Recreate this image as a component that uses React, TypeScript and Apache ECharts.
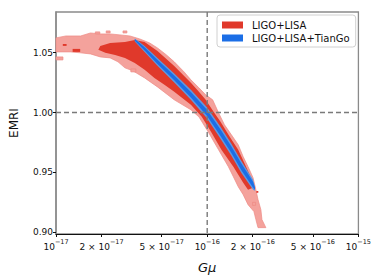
import React, { useEffect, useRef } from "react";
import * as echarts from "echarts";

// ---- data (x stored as log10(Gμ), y as EMRI) ----
const xTickValues = [1e-17, 2e-17, 5e-17, 1e-16, 2e-16, 5e-16, 1e-15];
const yTickValues = [0.9, 0.95, 1.0, 1.05];
const seriesNames = ["LIGO+LISA", "LIGO+LISA+TianGo"];
const refPoint = [1e-16, 1.0]; // dashed reference lines

// outer (light) LIGO+LISA contour
const redOuter: number[][] = [
  [-17.0, 1.0623], [-16.935, 1.0639], [-16.837, 1.0639], [-16.772, 1.0664], [-16.707, 1.0656],
  [-16.642, 1.0656], [-16.577, 1.0648], [-16.511, 1.0639], [-16.446, 1.0614], [-16.381, 1.0581],
  [-16.329, 1.0539], [-16.27, 1.0481], [-16.218, 1.0423], [-16.153, 1.0339], [-16.108, 1.0273],
  [-16.055, 1.0206], [-16.01, 1.0148], [-15.964, 1.0106], [-15.925, 0.9998], [-15.886, 0.9898],
  [-15.84, 0.9814], [-15.795, 0.9731], [-15.762, 0.9631], [-15.73, 0.9548], [-15.697, 0.9456],
  [-15.678, 0.9356], [-15.664, 0.9273], [-15.645, 0.9189], [-15.638, 0.9106], [-15.612, 0.9039],
  [-15.664, 0.9039], [-15.678, 0.9106], [-15.691, 0.9173], [-15.73, 0.9231], [-15.762, 0.9314],
  [-15.795, 0.9381], [-15.827, 0.9464], [-15.86, 0.9548], [-15.925, 0.9689], [-15.99, 0.9831],
  [-16.055, 0.9964], [-16.108, 1.0023], [-16.218, 1.0106], [-16.329, 1.0214], [-16.414, 1.0289],
  [-16.492, 1.0348], [-16.544, 1.0373], [-16.59, 1.0423], [-16.642, 1.0456], [-16.707, 1.0464],
  [-16.772, 1.0489], [-16.837, 1.0498], [-16.902, 1.0506], [-17.0, 1.0506],
];

// inner (dark) LIGO+LISA contour
const redInner: number[][] = [
  [-16.707, 1.0556], [-16.642, 1.0581], [-16.544, 1.0589], [-16.479, 1.0606], [-16.414, 1.0589],
  [-16.329, 1.0514], [-16.218, 1.0389], [-16.108, 1.0248], [-16.055, 1.0173], [-16.01, 1.0106],
  [-15.958, 1.0006], [-15.912, 0.9923], [-15.847, 0.9789], [-15.795, 0.9689], [-15.749, 0.9564],
  [-15.71, 0.9456], [-15.697, 0.9373], [-15.73, 0.9356], [-15.762, 0.9414], [-15.827, 0.9548],
  [-15.906, 0.9689], [-15.971, 0.9831], [-16.036, 0.9964], [-16.108, 1.0064], [-16.218, 1.0173],
  [-16.283, 1.0231], [-16.349, 1.0289], [-16.414, 1.0356], [-16.479, 1.0414], [-16.544, 1.0456],
  [-16.609, 1.0481], [-16.674, 1.0498], [-16.72, 1.0523],
];

// isolated light patches [log x0, log x1, y0, y1]
const redOuterBlobs: number[][] = [
  [-17.0, -16.954, 1.0439, 1.0464],
  [-16.74, -16.71, 1.0656, 1.0673],
  [-16.668, -16.642, 1.0664, 1.0681],
  [-16.557, -16.531, 1.0664, 1.0681],
  [-16.505, -16.472, 1.0339, 1.0364],
  [-15.7, -15.68, 0.9225, 0.925],
];
// isolated dark patches
const redInnerBlobs: number[][] = [
  [-16.89, -16.84, 1.0506, 1.0531],
  [-16.955, -16.93, 1.0556, 1.0572],
  [-15.675, -15.662, 0.9330, 0.9345],
];

// LIGO+LISA+TianGo band: centre line and half thickness
const blueLogX = [-16.479, -16.414, -16.329, -16.218, -16.108, -16.003, -15.912, -15.84, -15.775, -15.697, -15.684];
const blueMid = [1.0606, 1.0531, 1.0423, 1.0289, 1.0148, 1.0, 0.9831, 0.9689, 0.9548, 0.9398, 0.9364];
const blueHalf = [0.00125, 0.0025, 0.0033, 0.00375, 0.0042, 0.0046, 0.005, 0.005, 0.005, 0.0042, 0.0017];

const FONT = "DejaVu Sans";

function rectPoly(r: number[]): number[][] {
  return [[r[0], r[2]], [r[1], r[2]], [r[1], r[3]], [r[0], r[3]]];
}
function bandPoly(scale: number): number[][] {
  const up = blueLogX.map((x, i) => [x, blueMid[i] + blueHalf[i] * scale]);
  const lo = blueLogX.map((x, i) => [x, blueMid[i] - blueHalf[i] * scale]).reverse();
  return up.concat(lo);
}

function polySeries(name: string, polys: number[][][], fill: string, stroke: string | null, z: number) {
  return {
    type: "custom",
    name,
    z,
    clip: true,
    itemStyle: { color: fill },
    data: polys.map((p, i) => [Math.pow(10, p[0][0]), p[0][1], i]),
    encode: { x: 0, y: 1 },
    renderItem: (params: any, api: any) => {
      const poly = polys[params.dataIndex];
      const pts = poly.map(([lx, y]) => api.coord([Math.pow(10, lx), y]));
      return {
        type: "polygon",
        shape: { points: pts },
        style: { fill, stroke: stroke || "none", lineWidth: stroke ? 0.7 : 0 },
      };
    },
  };
}

function xLabel(v: number): string {
  const e = Math.floor(Math.log10(v) + 1e-9);
  const m = Math.round(v / Math.pow(10, e));
  const exp = "\u2212" + String(-e);
  return m === 1 ? `{b|10}{s|${exp}}` : `{b|${m} \u00d7 10}{s|${exp}}`;
}

export default function App() {
  const ref = useRef<HTMLDivElement>(null);
  useEffect(() => {
    if (!ref.current) return;
    const chart = echarts.init(ref.current, null, { renderer: "svg" });
    const pink = "#f4a29c";
    const pinkEdge = "#ee8a84";
    const red = "#e0392b";
    const blue = "#1b6ee6";
    const lightBlue = "#5f99e0";
    const dashStyle = { stroke: "#7a7a7a", lineWidth: 1.4, lineDash: [5, 3], fill: "none" };
    chart.setOption({
      animation: false,
      backgroundColor: "#ffffff",
      grid: { left: 55, right: 12, top: 12, bottom: 46, show: true, borderColor: "#8a8a8a", borderWidth: 1.3 },
      legend: {
        data: seriesNames,
        orient: "vertical",
        left: 217,
        top: 15,
        icon: "rect",
        itemWidth: 21,
        itemHeight: 7,
        itemGap: 3,
        padding: [5, 6, 4, 5],
        borderColor: "#d0d0d0",
        borderWidth: 1,
        borderRadius: 3,
        backgroundColor: "rgba(255,255,255,0.85)",
        textStyle: { fontFamily: FONT, fontSize: 10, color: "#111", padding: [0, 0, 0, 4] },
      },
      xAxis: {
        type: "log",
        logBase: 10,
        min: 1e-17,
        max: 1e-15,
        name: "G\u03bc",
        nameLocation: "middle",
        nameGap: 27,
        nameTextStyle: { fontFamily: FONT, fontStyle: "italic", fontSize: 13, color: "#111" },
        axisLine: { lineStyle: { color: "#111", width: 1 } },
        axisTick: { show: true, length: 3, customValues: xTickValues, lineStyle: { color: "#111" } },
        minorTick: { show: false },
        splitLine: { show: false },
        axisLabel: {
          customValues: xTickValues,
          margin: 4,
          formatter: (v: number) => xLabel(v),
          rich: {
            b: { fontFamily: FONT, fontSize: 9, color: "#111", verticalAlign: "bottom", lineHeight: 13 },
            s: { fontFamily: FONT, fontSize: 6.5, color: "#111", verticalAlign: "top", lineHeight: 8 },
          },
        },
      },
      yAxis: {
        type: "value",
        min: 0.8986,
        max: 1.0839,
        name: "EMRI",
        nameLocation: "middle",
        nameRotate: 90,
        nameGap: 36,
        nameTextStyle: { fontFamily: FONT, fontSize: 12, color: "#111" },
        axisLine: { show: true, lineStyle: { color: "#8a8a8a", width: 1.5 } },
        axisTick: { show: true, length: 3, customValues: yTickValues, lineStyle: { color: "#111" } },
        splitLine: { show: false },
        axisLabel: {
          customValues: yTickValues,
          margin: 3,
          formatter: (v: number) => v.toFixed(2),
          fontFamily: FONT,
          fontSize: 9,
          color: "#111",
        },
      },
      series: [
        polySeries("outer", [redOuter].concat(redOuterBlobs.map(rectPoly)), pink, pinkEdge, 1),
        polySeries(seriesNames[0], [redInner].concat(redInnerBlobs.map(rectPoly)), red, null, 2),
        polySeries("blueOuter", [bandPoly(1)], lightBlue, null, 3),
        polySeries(seriesNames[1], [bandPoly(0.55)], blue, null, 4),
        {
          type: "custom",
          name: "ref",
          z: 5,
          clip: true,
          data: [refPoint],
          encode: { x: 0, y: 1 },
          renderItem: (params: any, api: any) => {
            const cs = params.coordSys;
            const p = api.coord([refPoint[0], refPoint[1]]);
            return {
              type: "group",
              children: [
                { type: "line", shape: { x1: p[0], y1: cs.y, x2: p[0], y2: cs.y + cs.height }, style: dashStyle },
                { type: "line", shape: { x1: cs.x, y1: p[1], x2: cs.x + cs.width, y2: p[1] }, style: dashStyle },
              ],
            };
          },
        },
      ],
    });
    return () => chart.dispose();
  }, []);
  return <div ref={ref} style={{ position: "fixed", left: 0, top: 0, width: 374, height: 280 }} />;
}
